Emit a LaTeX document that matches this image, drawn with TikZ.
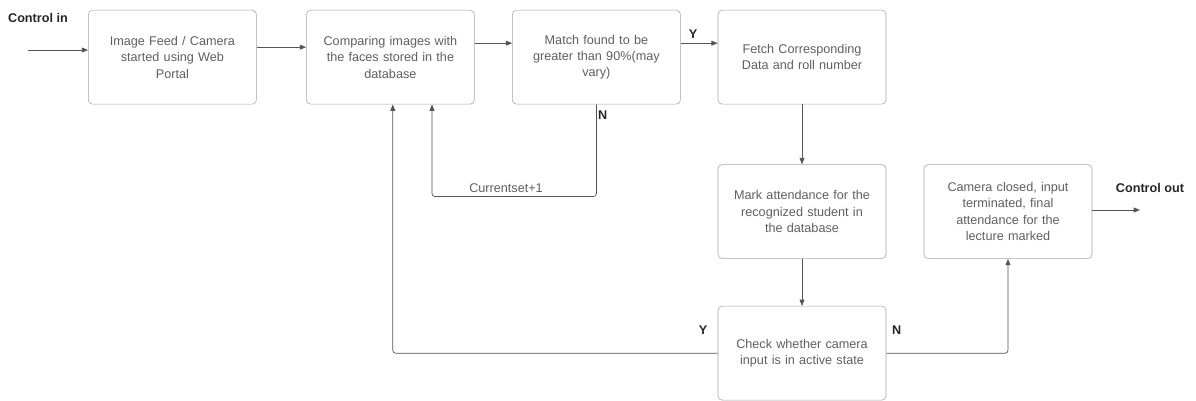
\documentclass[tikz,border=0pt]{standalone}
\usepackage{fontspec}
\setmainfont{Liberation Sans}
\usetikzlibrary{arrows.meta}

\definecolor{boxline}{RGB}{165,165,165}
\definecolor{flowline}{RGB}{85,85,85}
\definecolor{boxtext}{RGB}{95,95,95}

\tikzset{
  procbox/.style={draw=boxline, rounded corners=3pt, minimum width=4.2cm, minimum height=2.35cm,
                  text width=3.9cm, align=center, text=boxtext, font=\fontsize{9}{11.6}\selectfont},
  flow/.style={draw=flowline, line width=0.5pt, -{Triangle[length=4.5pt,width=3.5pt]}},
  tag/.style={font=\fontsize{9}{11}\selectfont\bfseries, text=black!85}
}

\begin{document}
\begin{tikzpicture}

\useasboundingbox (0,0) rectangle (29.9,-10.025);

% process boxes
\node (img) at (4.31,-1.43) [procbox] {Image Feed / Camera\\started using Web\\Portal};
\node (cmp) at (9.76,-1.43) [procbox] {Comparing images with\\the faces stored in the\\database};
\node (match) at (14.91,-1.43) [procbox] {Match found to be\\greater than 90\%(may\\vary)};
\node (fetch) at (20.05,-1.43) [procbox] {Fetch Corresponding\\Data and roll number};
\node (mark) at (20.05,-5.29) [procbox] {Mark attendance for the\\recognized student in\\the database};
\node (done) at (25.2,-5.29) [procbox] {Camera closed, input\\terminated, final\\attendance for the\\lecture marked};
\node (check) at (20.05,-8.83) [procbox] {Check whether camera\\input is in active state};

% free ends
\coordinate (cin) at (0.7,-1.25);
\coordinate (cout) at (28.5,-5.25);

% labels
\node (lin) at (0.95,-0.45) [tag] {Control in};
\node (lout) at (28.75,-4.7) [tag] {Control out};
\node (ymatch) at (17.33,-0.85) [tag] {Y};
\node (nmatch) at (15.07,-2.88) [tag] {N};
\node (ycheck) at (17.58,-8.25) [tag] {Y};
\node (ncheck) at (22.42,-8.25) [tag] {N};
\node (inc) at (12.65,-4.7) [text=boxtext, font=\fontsize{9}{11}\selectfont] {Currentset+1};

% connectors
\draw [flow] (cin) -- (img.west |- cin);
\draw [flow] ([yshift=0.25cm]img.east) -- ([yshift=0.25cm]cmp.west);
\draw [flow] ([yshift=0.35cm]cmp.east) -- ([yshift=0.35cm]match.west);
\draw [flow] ([yshift=0.35cm]match.east) -- ([yshift=0.35cm]fetch.west);
\draw [flow] (fetch.south) -- (mark.north);
\draw [flow] (mark.south) -- (check.north);
\draw [flow, rounded corners=2pt] (match.south) -- ++(0,-2.3) -| ([xshift=1.04cm]cmp.south);
\draw [flow, rounded corners=2pt] (check.west) -| ([xshift=0.06cm]cmp.south);
\draw [flow, rounded corners=2pt] (check.east) -| (done.south);
\draw [flow] (done.east |- cout) -- (cout);

\end{tikzpicture}
\end{document}
